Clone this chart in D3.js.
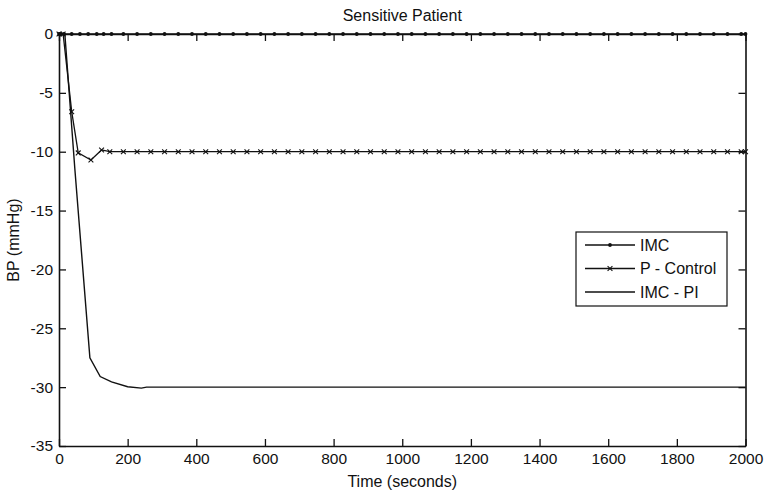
<!DOCTYPE html>
<html>
<head>
<meta charset="utf-8">
<script src="https://cdn.jsdelivr.net/npm/d3@7/dist/d3.min.js"></script>
<style>
  html, body { margin: 0; padding: 0; background: #fff; }
  svg { display: block; }
  text { font-family: "Liberation Sans", Arial, Helvetica, sans-serif; fill: #111; }
</style>
</head>
<body>
<svg id="chart" width="765" height="493"></svg>
<script>
// ---- data ----
const xTicks = [0, 200, 400, 600, 800, 1000, 1200, 1400, 1600, 1800, 2000];
const yTicks = [0, -5, -10, -15, -20, -25, -30, -35];
const seriesNames = ["IMC", "P - Control", "IMC - PI"];

const imcTime = [0, 3, 14, 37, 61, 85, 110, 130, 153,
  187.5, 227.5, 267.5, 307.5, 347.5, 387.5, 427.5, 467.5, 507.5, 547.5,
  587.5, 627.5, 667.5, 707.5, 747.5, 787.5, 827.5, 867.5, 907.5, 947.5,
  987.5, 1027.5, 1067.5, 1107.5, 1147.5, 1187.5, 1227.5, 1267.5, 1307.5, 1347.5,
  1387.5, 1427.5, 1467.5, 1507.5, 1547.5, 1587.5, 1627.5, 1667.5, 1707.5, 1747.5,
  1787.5, 1827.5, 1867.5, 1907.5, 1947.5, 1987.5, 2000];
const imcValue = [0, 0, 0, 0, 0, 0, 0, 0, 0,
  0, 0, 0, 0, 0, 0, 0, 0, 0, 0,
  0, 0, 0, 0, 0, 0, 0, 0, 0, 0,
  0, 0, 0, 0, 0, 0, 0, 0, 0, 0,
  0, 0, 0, 0, 0, 0, 0, 0, 0, 0,
  0, 0, 0, 0, 0, 0, 0];

const pTime = [0, 12, 37, 56, 93, 124, 148,
  187.5, 227.5, 267.5, 307.5, 347.5, 387.5, 427.5, 467.5, 507.5, 547.5,
  587.5, 627.5, 667.5, 707.5, 747.5, 787.5, 827.5, 867.5, 907.5, 947.5,
  987.5, 1027.5, 1067.5, 1107.5, 1147.5, 1187.5, 1227.5, 1267.5, 1307.5, 1347.5,
  1387.5, 1427.5, 1467.5, 1507.5, 1547.5, 1587.5, 1627.5, 1667.5, 1707.5, 1747.5,
  1787.5, 1827.5, 1867.5, 1907.5, 1947.5, 1987.5, 2000];
const pValue = [0, 0, -6.6, -10.1, -10.7, -9.85, -10,
  -10, -10, -10, -10, -10, -10, -10, -10, -10, -10,
  -10, -10, -10, -10, -10, -10, -10, -10, -10, -10,
  -10, -10, -10, -10, -10, -10, -10, -10, -10, -10,
  -10, -10, -10, -10, -10, -10, -10, -10, -10, -10,
  -10, -10, -10, -10, -10, -10, -10];

const piTime = [0, 17, 46, 90, 120, 153, 200, 240, 255, 2000];
const piValue = [0, 0, -11.4, -27.5, -29.1, -29.55, -29.97, -30.08, -30, -30];

// ---- layout ----
const svg = d3.select("#chart");
const pL = 59, pR = 745.5, pT = 34, pB = 446;
const x = d3.scaleLinear().domain([0, 2000]).range([pL, pR]);
const y = d3.scaleLinear().domain([-35, 0]).range([pB, pT]);
const ink = "#111";

const zip = (t, v) => t.map((d, i) => [d, v[i]]);
const imc = zip(imcTime, imcValue);
const pc = zip(pTime, pValue);
const pi = zip(piTime, piValue);

const line = d3.line().x(d => x(d[0])).y(d => y(d[1]));

svg.append("rect").attr("x", pL).attr("y", pT)
  .attr("width", pR - pL).attr("height", pB - pT).attr("fill", "#fff");

// series lines
const g = svg.append("g");
g.append("path").datum(pi).attr("d", line)
  .attr("fill", "none").attr("stroke", ink).attr("stroke-width", 1.4);
g.append("path").datum(pc).attr("d", line)
  .attr("fill", "none").attr("stroke", ink).attr("stroke-width", 1.3);
g.append("path").datum(imc).attr("d", line)
  .attr("fill", "none").attr("stroke", ink).attr("stroke-width", 1.6);

// markers
const xm = 2.4;
g.selectAll(".xmark").data(pc).enter().append("path")
  .attr("d", d => {
    const cx = x(d[0]), cy = y(d[1]);
    return `M${cx - xm},${cy - xm}L${cx + xm},${cy + xm}M${cx - xm},${cy + xm}L${cx + xm},${cy - xm}`;
  })
  .attr("stroke", ink).attr("stroke-width", 1.1).attr("fill", "none");
g.selectAll(".dot").data(imc).enter().append("circle")
  .attr("cx", d => x(d[0])).attr("cy", d => y(d[1])).attr("r", 1.9).attr("fill", ink);

// axes (hyphen-minus like the reference)
const fmt = d => String(d);
const axB = svg.append("g").attr("transform", `translate(0,${pB})`)
  .call(d3.axisBottom(x).tickValues(xTicks).tickFormat(fmt).tickSizeInner(-7).tickSizeOuter(0).tickPadding(7));
const axL = svg.append("g").attr("transform", `translate(${pL},0)`)
  .call(d3.axisLeft(y).tickValues(yTicks).tickFormat(fmt).tickSizeInner(-7).tickSizeOuter(0).tickPadding(6));
const axT = svg.append("g").attr("transform", `translate(0,${pT})`)
  .call(d3.axisTop(x).tickValues(xTicks).tickFormat("").tickSizeInner(-7).tickSizeOuter(0));
const axR = svg.append("g").attr("transform", `translate(${pR},0)`)
  .call(d3.axisRight(y).tickValues(yTicks).tickFormat("").tickSizeInner(-7).tickSizeOuter(0));

[axB, axL, axT, axR].forEach(a => {
  a.select(".domain").attr("stroke", ink).attr("stroke-width", 1.6);
  a.selectAll(".tick line").attr("stroke", ink).attr("stroke-width", 1.3);
  a.selectAll(".tick text").attr("font-size", 15.5).attr("fill", ink)
    .style("font-family", '"Liberation Sans", Arial, sans-serif');
});

// title and axis labels
svg.append("text").attr("x", (pL + pR) / 2).attr("y", 21)
  .attr("text-anchor", "middle").attr("font-size", 16).text("Sensitive Patient");
svg.append("text").attr("x", (pL + pR) / 2).attr("y", 487)
  .attr("text-anchor", "middle").attr("font-size", 16).text("Time (seconds)");
svg.append("text").attr("transform", `translate(19,${(pT + pB) / 2}) rotate(-90)`)
  .attr("text-anchor", "middle").attr("font-size", 16).text("BP (mmHg)");

// legend
const lg = svg.append("g");
lg.append("rect").attr("x", 576).attr("y", 232).attr("width", 151).attr("height", 74)
  .attr("fill", "#fff").attr("stroke", ink).attr("stroke-width", 1.2);
const rows = [245, 268.5, 292];
seriesNames.forEach((name, i) => {
  const ry = rows[i];
  lg.append("line").attr("x1", 585).attr("x2", 635).attr("y1", ry).attr("y2", ry)
    .attr("stroke", ink).attr("stroke-width", i === 0 ? 1.6 : 1.3);
  if (i === 0) {
    lg.append("circle").attr("cx", 610).attr("cy", ry).attr("r", 1.9).attr("fill", ink);
  } else if (i === 1) {
    lg.append("path")
      .attr("d", `M${610 - xm},${ry - xm}L${610 + xm},${ry + xm}M${610 - xm},${ry + xm}L${610 + xm},${ry - xm}`)
      .attr("stroke", ink).attr("stroke-width", 1.1);
  }
  lg.append("text").attr("x", 640).attr("y", ry).attr("dy", "0.36em")
    .attr("font-size", 16).text(name);
});
</script>
</body>
</html>
